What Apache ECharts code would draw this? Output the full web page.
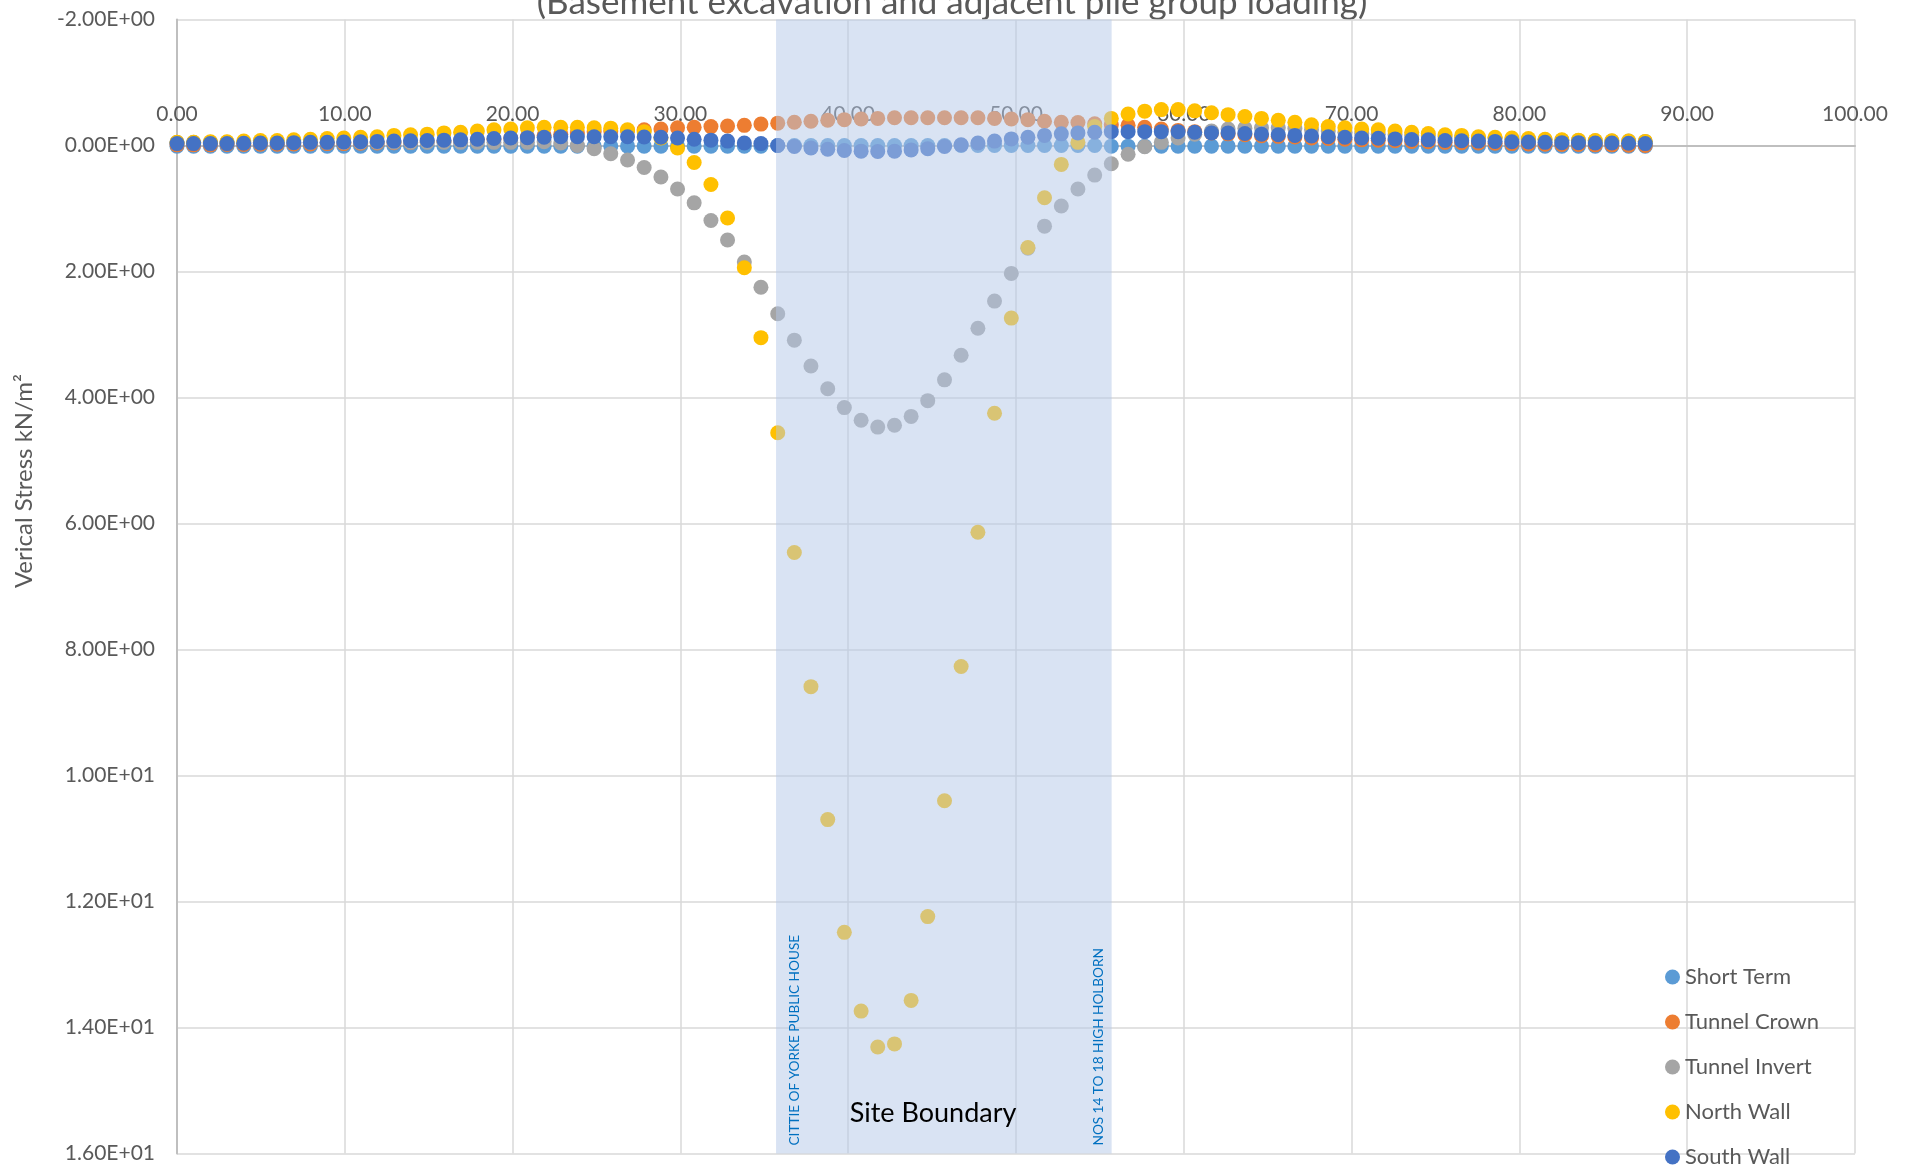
<!DOCTYPE html>
<html>
<head>
<meta charset="utf-8">
<script src="https://cdn.jsdelivr.net/npm/echarts@6/dist/echarts.min.js"></script>
<style>
  html, body { margin: 0; padding: 0; background: #fff; }
  #chart { width: 1910px; height: 1175px; }
</style>
</head>
<body>
<div id="chart"></div>
<script>
// distance along the section (x) shared by every series
const xValues = [
  0.00, 0.99, 1.99, 2.98, 3.98, 4.97, 5.97, 6.96, 7.95, 8.95,
  9.94, 10.94, 11.93, 12.93, 13.92, 14.91, 15.91, 16.90, 17.90, 18.89,
  19.89, 20.88, 21.88, 22.87, 23.86, 24.86, 25.85, 26.85, 27.84, 28.84,
  29.83, 30.82, 31.82, 32.81, 33.81, 34.80, 35.80, 36.79, 37.78, 38.78,
  39.77, 40.77, 41.76, 42.76, 43.75, 44.74, 45.74, 46.73, 47.73, 48.72,
  49.72, 50.71, 51.70, 52.70, 53.69, 54.69, 55.68, 56.68, 57.67, 58.66,
  59.66, 60.65, 61.65, 62.64, 63.64, 64.63, 65.63, 66.62, 67.61, 68.61,
  69.60, 70.60, 71.59, 72.59, 73.58, 74.57, 75.57, 76.56, 77.56, 78.55,
  79.55, 80.54, 81.53, 82.53, 83.52, 84.52, 85.51, 86.51, 87.50
];

const shortTerm = [
  0.01, 0.01, 0.01, 0.01, 0.01, 0.01, 0.01, 0.01, 0.01, 0.01,
  0.01, 0.01, 0.01, 0.01, 0.01, 0.01, 0.01, 0.01, 0.01, 0.01,
  0.01, 0.01, 0.01, 0.01, 0.01, 0.01, 0.01, 0.01, 0.01, 0.01,
  0.01, 0.01, 0.01, 0.01, 0.01, 0.01, 0.00, 0.00, 0.00, 0.00,
  0.00, 0.00, 0.00, 0.00, 0.00, 0.00, 0.00, 0.00, 0.00, 0.00,
  0.00, 0.00, 0.00, 0.00, 0.00, 0.00, 0.01, 0.01, 0.01, 0.01,
  0.01, 0.01, 0.01, 0.01, 0.01, 0.01, 0.01, 0.01, 0.01, 0.01,
  0.01, 0.01, 0.01, 0.01, 0.01, 0.01, 0.01, 0.01, 0.01, 0.01,
  0.01, 0.01, 0.01, 0.01, 0.01, 0.01, 0.01, 0.01, 0.01
];

const tunnelCrown = [
  -0.01, -0.01, -0.01, -0.015, -0.015, -0.02, -0.02, -0.025, -0.025, -0.03,
  -0.03, -0.035, -0.04, -0.045, -0.05, -0.06, -0.065, -0.075, -0.09, -0.10,
  -0.12, -0.14, -0.16, -0.18, -0.20, -0.22, -0.23, -0.24, -0.25, -0.26,
  -0.28, -0.29, -0.30, -0.31, -0.32, -0.34, -0.355, -0.37, -0.385, -0.40,
  -0.41, -0.42, -0.43, -0.44, -0.44, -0.44, -0.44, -0.44, -0.44, -0.43,
  -0.42, -0.41, -0.385, -0.37, -0.365, -0.345, -0.33, -0.32, -0.29, -0.26,
  -0.24, -0.22, -0.20, -0.185, -0.17, -0.155, -0.145, -0.135, -0.12, -0.11,
  -0.10, -0.09, -0.085, -0.075, -0.065, -0.06, -0.05, -0.045, -0.04, -0.035,
  -0.03, -0.025, -0.02, -0.015, -0.015, -0.01, -0.01, -0.005, 0.00
];

const tunnelInvert = [
  -0.05, -0.05, -0.05, -0.05, -0.05, -0.05, -0.05, -0.05, -0.05, -0.05,
  -0.05, -0.05, -0.05, -0.05, -0.05, -0.05, -0.05, -0.05, -0.05, -0.05,
  -0.05, -0.05, -0.06, -0.04, 0.00, 0.05, 0.13, 0.23, 0.35, 0.50,
  0.69, 0.91, 1.19, 1.50, 1.85, 2.25, 2.67, 3.09, 3.50, 3.86,
  4.16, 4.36, 4.47, 4.44, 4.30, 4.05, 3.72, 3.33, 2.90, 2.47,
  2.03, 1.63, 1.28, 0.96, 0.69, 0.47, 0.29, 0.14, 0.02, -0.05,
  -0.12, -0.18, -0.23, -0.26, -0.275, -0.28, -0.28, -0.27, -0.25, -0.23,
  -0.21, -0.19, -0.18, -0.17, -0.16, -0.15, -0.14, -0.13, -0.12, -0.11,
  -0.10, -0.095, -0.09, -0.085, -0.08, -0.075, -0.07, -0.07, -0.065
];

const northWall = [
  -0.05, -0.05, -0.06, -0.06, -0.07, -0.08, -0.08, -0.09, -0.10, -0.11,
  -0.12, -0.13, -0.14, -0.16, -0.17, -0.18, -0.20, -0.21, -0.23, -0.25,
  -0.26, -0.28, -0.29, -0.29, -0.29, -0.28, -0.275, -0.25, -0.22, -0.12,
  0.04, 0.27, 0.62, 1.15, 1.94, 3.05, 4.56, 6.46, 8.59, 10.70,
  12.49, 13.74, 14.31, 14.26, 13.57, 12.24, 10.40, 8.27, 6.14, 4.25,
  2.74, 1.62, 0.83, 0.30, -0.05, -0.30, -0.43, -0.50, -0.545, -0.57,
  -0.57, -0.55, -0.52, -0.49, -0.46, -0.43, -0.40, -0.37, -0.33, -0.30,
  -0.28, -0.26, -0.25, -0.23, -0.21, -0.19, -0.17, -0.16, -0.14, -0.13,
  -0.12, -0.11, -0.10, -0.09, -0.085, -0.08, -0.075, -0.07, -0.065
];

const southWall = [
  -0.03, -0.03, -0.03, -0.03, -0.035, -0.04, -0.04, -0.045, -0.05, -0.05,
  -0.055, -0.06, -0.065, -0.07, -0.075, -0.08, -0.085, -0.09, -0.10, -0.11,
  -0.12, -0.125, -0.13, -0.14, -0.14, -0.14, -0.14, -0.14, -0.135, -0.13,
  -0.12, -0.10, -0.085, -0.07, -0.04, -0.03, 0.00, 0.015, 0.04, 0.06,
  0.08, 0.09, 0.095, 0.09, 0.07, 0.05, 0.016, -0.01, -0.04, -0.07,
  -0.105, -0.13, -0.16, -0.185, -0.20, -0.21, -0.22, -0.22, -0.22, -0.22,
  -0.22, -0.21, -0.20, -0.20, -0.19, -0.18, -0.17, -0.16, -0.15, -0.14,
  -0.13, -0.12, -0.115, -0.105, -0.095, -0.09, -0.08, -0.075, -0.07, -0.065,
  -0.06, -0.055, -0.05, -0.045, -0.045, -0.04, -0.04, -0.035, -0.03
];

const seriesNames = ['Short Term', 'Tunnel Crown', 'Tunnel Invert', 'North Wall', 'South Wall'];
const seriesValues = [shortTerm, tunnelCrown, tunnelInvert, northWall, southWall];
const colors = ['#5b9bd5', '#ed7d31', '#a5a5a5', '#ffc000', '#4472c4'];

// site boundary extent along x
const siteBoundary = [35.7, 55.7];

const FONT = 'Lato, "Open Sans", sans-serif';
const textGrey = '#595959';

const Y_MIN = -2, Y_MAX = 16;
const GRID = { left: 177, right: 55, top: 19.5, bottom: 21.5 };
// pixel row of y = 0 inside the main grid (the x labels sit on it)
const plotH = 1175 - GRID.top - GRID.bottom;
const zeroRow = GRID.top + plotH * (0 - Y_MIN) / (Y_MAX - Y_MIN);

// Excel style scientific label, e.g. 1.20E+01
const sciLabel = (v) => {
  if (v === 0) return '0.00E+00';
  const e = Math.floor(Math.log10(Math.abs(v)) + 1e-9);
  const m = v / Math.pow(10, e);
  return m.toFixed(2) + 'E' + (e < 0 ? '-' : '+') + String(Math.abs(e)).padStart(2, '0');
};

const chart = echarts.init(document.getElementById('chart'));

const option = {
  animation: false,
  backgroundColor: '#ffffff',
  textStyle: { fontFamily: FONT },
  grid: [
    { ...GRID, containLabel: false, outerBoundsMode: 'none' },
    { left: GRID.left, right: GRID.right, top: zeroRow, height: 1, containLabel: false, outerBoundsMode: 'none' },
  ],
  legend: {
    data: seriesNames,
    orient: 'vertical',
    left: 1665,
    top: 966,
    height: 260,
    padding: 0,
    icon: 'circle',
    itemWidth: 15,
    itemHeight: 15,
    itemGap: 23,
    selectedMode: false,
    textStyle: { color: textGrey, fontSize: 22, lineHeight: 22, fontFamily: FONT },
  },
  xAxis: [
    {
      type: 'value',
      gridIndex: 0,
      min: 0,
      max: 100,
      interval: 10,
      axisLine: { onZero: true, lineStyle: { color: '#bfbfbf', width: 2 } },
      axisTick: { show: false },
      axisLabel: { show: false },
      splitLine: { show: true, lineStyle: { color: '#d9d9d9', width: 1.5 } },
    },
    {
      // label row sitting just above the y = 0 line
      type: 'value',
      gridIndex: 1,
      position: 'top',
      min: 0,
      max: 100,
      interval: 10,
      axisLine: { show: false },
      axisTick: { show: false },
      splitLine: { show: false },
      axisLabel: { formatter: (v) => v.toFixed(2), color: textGrey, fontSize: 21, fontFamily: FONT, margin: 21 },
    },
  ],
  yAxis: [
    {
      type: 'value',
      gridIndex: 0,
      inverse: true,
      min: Y_MIN,
      max: Y_MAX,
      interval: 2,
      axisLine: { show: true, onZero: true, lineStyle: { color: '#bfbfbf', width: 2 } },
      axisTick: { show: false },
      axisLabel: { formatter: sciLabel, color: textGrey, fontSize: 21, fontFamily: FONT, margin: 22 },
      splitLine: { show: true, lineStyle: { color: '#d9d9d9', width: 1.5 } },
    },
    { type: 'value', gridIndex: 1, show: false, min: 0, max: 1 },
  ],
  graphic: [
    {
      type: 'text',
      x: 952,
      y: 3,
      style: {
        text: '(Basement excavation and adjacent pile group loading)',
        fill: textGrey,
        font: '35px ' + FONT,
        align: 'center',
        verticalAlign: 'middle',
      },
    },
    {
      type: 'text',
      x: 24,
      y: 481,
      rotation: Math.PI / 2,
      style: {
        text: 'Verical Stress kN/m²',
        fill: textGrey,
        font: '24px ' + FONT,
        align: 'center',
        verticalAlign: 'middle',
      },
    },
  ],
  series: [
    ...seriesNames.map((name, i) => ({
      name,
      type: 'scatter',
      xAxisIndex: 0,
      yAxisIndex: 0,
      symbol: 'circle',
      symbolSize: 15,
      z: 2,
      data: xValues.map((x, k) => [x, seriesValues[i][k]]),
      itemStyle: { color: colors[i], opacity: 1 },
      emphasis: { disabled: true },
    })),
    {
      name: 'Site Boundary',
      type: 'custom',
      xAxisIndex: 0,
      yAxisIndex: 0,
      z: 5,
      silent: true,
      encode: { x: [0, 1] },
      data: [siteBoundary],
      renderItem: (params, api) => {
        const a = api.coord([api.value(0), Y_MIN]);
        const b = api.coord([api.value(1), Y_MAX]);
        const x0 = a[0], x1 = b[0], top = a[1], bottom = b[1];
        return {
          type: 'group',
          children: [
            {
              type: 'rect',
              shape: { x: x0, y: top, width: x1 - x0, height: bottom - top },
              style: { fill: 'rgba(180,199,231,0.5)' },
            },
            {
              type: 'text',
              x: x0 + 19,
              y: bottom - 8,
              rotation: Math.PI / 2,
              style: { text: 'CITTIE OF YORKE PUBLIC HOUSE', fill: '#0070c0', font: '13.6px ' + FONT, align: 'left', verticalAlign: 'middle' },
            },
            {
              type: 'text',
              x: x1 - 13,
              y: bottom - 8,
              rotation: Math.PI / 2,
              style: { text: 'NOS 14 TO 18 HIGH HOLBORN', fill: '#0070c0', font: '13.6px ' + FONT, align: 'left', verticalAlign: 'middle' },
            },
            {
              type: 'text',
              x: x0 + 157,
              y: bottom - 40,
              style: { text: 'Site Boundary', fill: '#000000', font: '27px ' + FONT, align: 'center', verticalAlign: 'middle' },
            },
          ],
        };
      },
    },
  ],
};

chart.setOption(option);
</script>
</body>
</html>
